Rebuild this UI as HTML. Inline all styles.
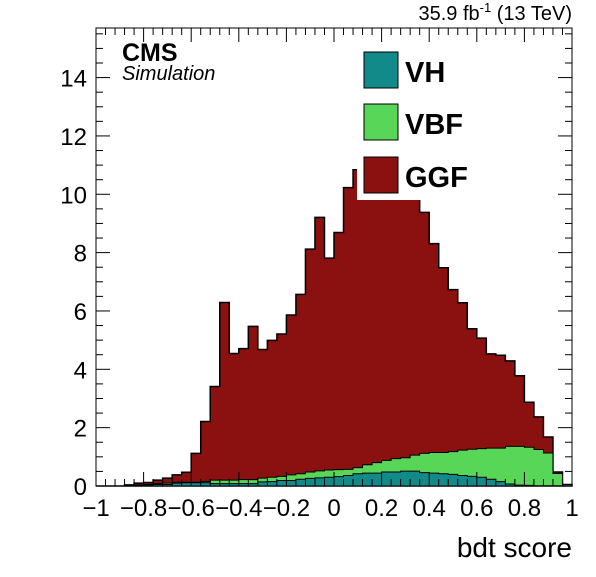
<!DOCTYPE html>
<html><head><meta charset="utf-8"><style>
body{margin:0;background:#fff;}
svg text{font-family:"Liberation Sans",sans-serif;}
</style></head><body>
<svg id="c" width="596" height="572" xmlns="http://www.w3.org/2000/svg"></svg>
<script>
const total=[0,0,0,0.04,0.1,0.12,0.2,0.27,0.38,0.47,1.12,2.21,3.41,6.29,4.54,4.71,5.47,4.68,4.99,5.21,5.86,6.57,8.12,9.21,7.81,8.69,10.23,10.84,10.6,10.45,10.3,10.2,10.1,10.0,9.38,8.31,7.48,6.73,6.28,5.39,5.07,4.53,4.48,4.29,3.78,2.87,2.37,1.68,0.48,0.05];
const greenTop=[0,0,0,0.02,0.03,0.05,0.08,0.1,0.13,0.13,0.13,0.15,0.2,0.2,0.2,0.22,0.22,0.27,0.3,0.33,0.38,0.42,0.48,0.52,0.55,0.56,0.57,0.63,0.73,0.8,0.88,0.94,0.97,1.06,1.12,1.15,1.15,1.18,1.23,1.26,1.28,1.3,1.3,1.36,1.36,1.33,1.25,1.13,0.43,0.05];
const vhTop=[0,0,0,0.02,0.03,0.04,0.05,0.05,0.1,0.11,0.11,0.11,0.08,0.08,0.08,0.08,0.08,0.14,0.15,0.19,0.19,0.23,0.26,0.28,0.3,0.32,0.36,0.42,0.44,0.44,0.48,0.48,0.51,0.51,0.46,0.44,0.42,0.4,0.36,0.33,0.3,0.23,0.15,0.07,0.03,0.02,0.01,0.01,0.01,0.01];
const yTicks=[0,2,4,6,8,10,12,14];
const xTicks=[-1,-0.8,-0.6,-0.4,-0.2,0,0.2,0.4,0.6,0.8,1];
const xTickLabels=["\u22121","\u22120.8","\u22120.6","\u22120.4","\u22120.2","0","0.2","0.4","0.6","0.8","1"];
const L=96,R=572,T=28,B=486,YMAX=15.7;
const X=v=>L+(v+1)/2*(R-L);
const Y=v=>B-v/YMAX*(B-T);
const svg=document.getElementById('c');const NS='http://www.w3.org/2000/svg';
function mk(t,a,p){const e=document.createElementNS(NS,t);for(const k in a)e.setAttribute(k,a[k]);(p||svg).appendChild(e);return e;}
const n=total.length,w=2/n;
function stepPath(arr){let d='M'+X(-1)+','+Y(0);for(let i=0;i<n;i++){const x0=X(-1+i*w),x1=X(-1+(i+1)*w);d+=' L'+x0+','+Y(arr[i])+' L'+x1+','+Y(arr[i]);}d+=' L'+X(1)+','+Y(0)+' Z';return d;}
let p=mk('path',{d:stepPath(total),fill:'#8b1010',stroke:'#000','stroke-width':1.5});

p=mk('path',{d:stepPath(greenTop),fill:'#57d657',stroke:'#000','stroke-width':1});

p=mk('path',{d:stepPath(vhTop),fill:'#128a8a',stroke:'#000','stroke-width':1});

const lg=mk('g',{});
mk('rect',{x:357,y:40,width:110,height:160,fill:'#fff'},lg);
const ents=[['VH','#128a8a',52],['VBF','#57d657',104],['GGF','#8b1010',157]];
ents.forEach(e=>{const g=mk('g',{},lg);
mk('rect',{x:364,y:e[2],width:34,height:36,fill:e[1],stroke:'#000','stroke-width':1},g);
const t=mk('text',{x:405,y:e[2]+30,'font-size':29,'font-weight':'bold'},g);t.textContent=e[0];});
p=mk('rect',{x:L,y:T,width:R-L,height:B-T,fill:'none',stroke:'#000','stroke-width':1});

for(let v=0;v<=15.5;v+=0.5){const major=(v%2===0);const len=major?14:7;const y=Y(v);
mk('line',{x1:L,x2:L+len,y1:y,y2:y,stroke:'#000'});mk('line',{x1:R,x2:R-len,y1:y,y2:y,stroke:'#000'});}
yTicks.forEach(v=>{const t=mk('text',{x:L-9,y:Y(v)+9,'font-size':24,'text-anchor':'end'});t.textContent=v;
});
for(let v=-1;v<=1.0001;v+=0.04){const k=Math.round((v+1)/0.04);const major=k%5===0;const len=major?14:7;const x=X(v);
mk('line',{x1:x,x2:x,y1:B,y2:B-len,stroke:'#000'});mk('line',{x1:x,x2:x,y1:T,y2:T+len,stroke:'#000'});}
xTicks.forEach((v,i)=>{const t=mk('text',{x:X(v),y:516,'font-size':24,'text-anchor':'middle'});t.textContent=xTickLabels[i];
});
let t=mk('text',{x:572,y:557,'font-size':28,'text-anchor':'end'});t.textContent='bdt score';

t=mk('text',{x:122,y:61,'font-size':25,'font-weight':'bold'});t.textContent='CMS';

t=mk('text',{x:122,y:80,'font-size':20,'font-style':'italic'});t.textContent='Simulation';

t=mk('text',{x:572,y:20,'font-size':20,'text-anchor':'end'});
t.innerHTML='35.9 fb<tspan dy="-8" font-size="13">-1</tspan><tspan dy="8"> (13 TeV)</tspan>';

</script>
</body></html>
